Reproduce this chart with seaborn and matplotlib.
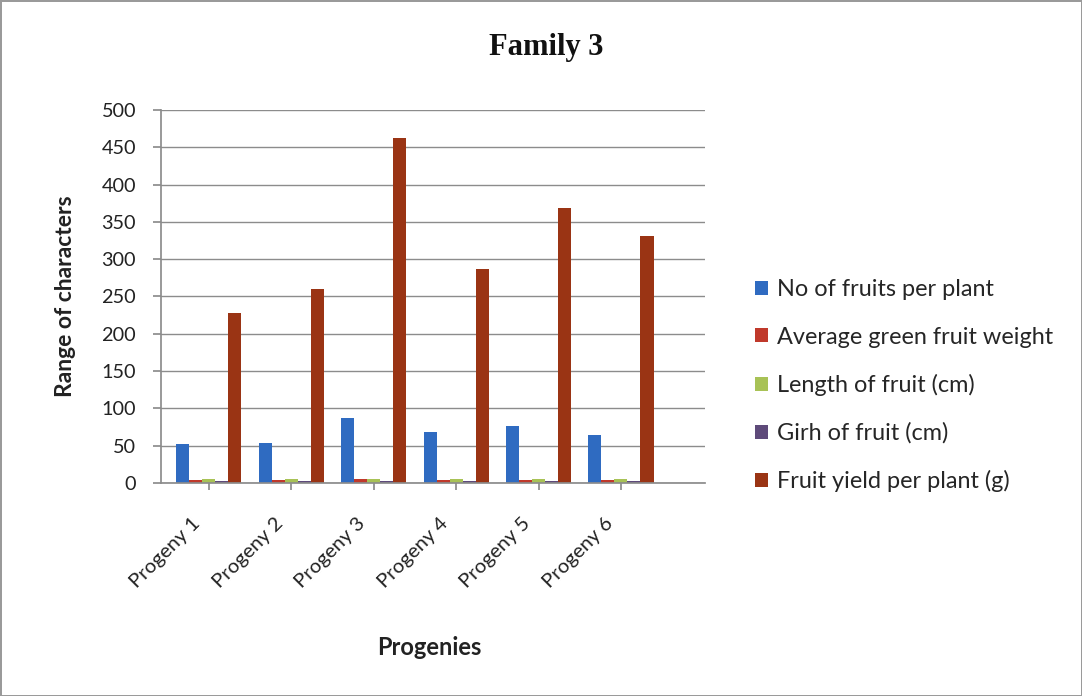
import matplotlib
matplotlib.use("Agg")
import matplotlib.pyplot as plt
import matplotlib.transforms as mtransforms
import seaborn as sns
import pandas as pd

progenies = ["Progeny 1", "Progeny 2", "Progeny 3", "Progeny 4", "Progeny 5", "Progeny 6"]
traits = ["No of fruits per plant", "Average green fruit weight",
          "Length of fruit (cm)", "Girh of fruit (cm)", "Fruit yield per plant (g)"]
fruits_per_plant = [52, 53, 87, 69, 77, 64]
green_fruit_weight = [4.2, 4.5, 4.8, 4.4, 4.6, 4.3]
fruit_length = [5.1, 5.3, 5.6, 5.2, 5.4, 5.0]
fruit_girth = [2.4, 2.5, 2.7, 2.5, 2.6, 2.4]
fruit_yield = [228, 260, 463, 287, 369, 331]
colors = ["#2F6BC1", "#C0392B", "#A8C256", "#5E4A7A", "#9A3414"]
y_ticks = list(range(0, 501, 50))

series = [fruits_per_plant, green_fruit_weight, fruit_length, fruit_girth, fruit_yield]
df = pd.DataFrame(
    [(p, t, v) for t, vals in zip(traits, series) for p, v in zip(progenies, vals)],
    columns=["Progeny", "Trait", "Value"],
)

sns.set_theme(style="white")
plt.rcParams["font.family"] = ["Lato", "DejaVu Sans"]

fig = plt.figure(figsize=(10.82, 6.96), dpi=100)
fig.patch.set_edgecolor("#9a9a9a")
fig.patch.set_linewidth(2)
ax = fig.add_axes([0.1488, 0.306, 0.5028, 0.536])

sns.barplot(data=df, x="Progeny", y="Value", hue="Trait", hue_order=traits,
            palette=colors, width=0.79, ax=ax, saturation=1, edgecolor="none")

ax.set_ylim(0, 500)
ax.set_yticks(y_ticks)
ax.set_xlim(-0.58, 6.02)
ax.yaxis.grid(True, color="#8c8c8c", linewidth=1.0)
ax.set_axisbelow(True)
for side in ["top", "right"]:
    ax.spines[side].set_visible(False)
ax.spines["left"].set_color("#8c8c8c")
ax.spines["bottom"].set_color("#8c8c8c")
ax.tick_params(axis="y", labelsize=14.3, colors="#222222", length=6, pad=12,
               left=True, color="#8c8c8c")
ax.tick_params(axis="x", labelsize=14.6, colors="#222222", length=5, bottom=True,
               color="#8c8c8c")
ax.set_xticks(range(len(progenies)))
ax.set_xticklabels(progenies, rotation=45, ha="right", rotation_mode="anchor")
shift = mtransforms.ScaledTranslation(-0.17, -0.2, fig.dpi_scale_trans)
for lbl in ax.get_xticklabels():
    lbl.set_transform(lbl.get_transform() + shift)

ax.set_xlabel("Progenies", fontsize=17, fontweight="bold", color="#222222")
ax.xaxis.set_label_coords(0.494, -0.442)
ax.xaxis.label.set_va("center")
ax.set_ylabel("Range of characters", fontsize=16.5, fontweight="bold", color="#222222")
ax.yaxis.set_label_coords(-0.175, 0.5)
ax.yaxis.label.set_va("center")

fig.text(0.505, 0.932, "Family 3", ha="center", va="center", fontsize=22,
         fontweight="bold", family="Liberation Serif", color="#111111")

handles, labels = ax.get_legend_handles_labels()
ax.legend(handles, labels, loc="upper left", bbox_to_anchor=(0.689, 0.612),
          bbox_transform=fig.transFigure, frameon=False, fontsize=16.9,
          handlelength=0.55, handleheight=0.55, handletextpad=0.4, labelspacing=1.12,
          borderaxespad=0)

fig.savefig("out.png", dpi=100)
